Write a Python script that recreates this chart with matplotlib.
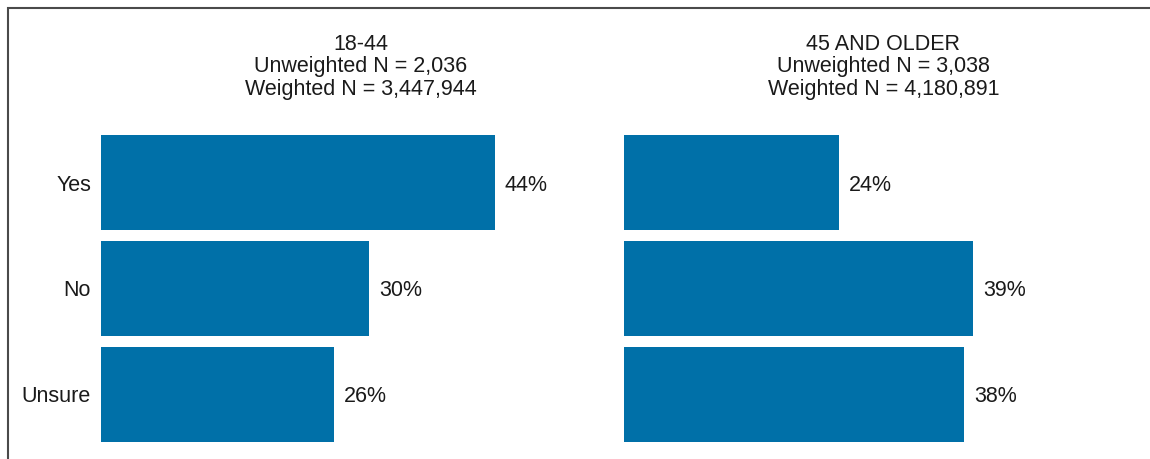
import matplotlib
matplotlib.use("Agg")
import matplotlib.pyplot as plt
from matplotlib.lines import Line2D

# Survey responses by age group (percent)
categories = ["Yes", "No", "Unsure"]
group_names = ["18-44", "45 AND OLDER"]
unweighted_n = ["2,036", "3,038"]
weighted_n = ["3,447,944", "4,180,891"]
values_18_44 = [44, 30, 26]
values_45_plus = [24, 39, 38]

BAR_COLOR = "#0070A8"
TEXT_COLOR = "#1a1a1a"
FONT = "Liberation Sans"
FS = 15.5

plt.rcParams["font.family"] = [FONT, "DejaVu Sans"]

W, H = 1150, 459
DPI = 100
fig = plt.figure(figsize=(W / DPI, H / DPI), dpi=DPI)
fig.patch.set_facecolor("white")

def px_to_pt(px):
    return px * 72.0 / DPI

# axes geometry in pixels (left, top, width, height)
ax_top = 130
ax_h = 317
ax_w = 519
lefts = [101, 624]
xmax = 58

series = [values_18_44, values_45_plus]
for k, (left, vals) in enumerate(zip(lefts, series)):
    ax = fig.add_axes([left / W, (H - ax_top - ax_h) / H, ax_w / W, ax_h / H])
    ypos = list(range(len(categories)))
    ax.barh(ypos, vals, height=0.9, color=BAR_COLOR, edgecolor="none")
    ax.set_xlim(0, xmax)
    ax.set_ylim(len(categories) - 0.5, -0.5)
    for s in ax.spines.values():
        s.set_visible(False)
    ax.set_xticks([])
    if k == 0:
        ax.set_yticks(ypos)
        ax.set_yticklabels(categories, fontsize=FS, color=TEXT_COLOR)
        ax.tick_params(axis="y", length=0, pad=px_to_pt(10))
    else:
        ax.set_yticks([])
    for i, v in enumerate(vals):
        ax.annotate(f"{v}%", xy=(v, i), xytext=(px_to_pt(10), 0),
                    textcoords="offset points", va="center_baseline",
                    ha="left", fontsize=FS, color=TEXT_COLOR)
    # three-line header above each panel
    lines = [group_names[k],
             f"Unweighted N = {unweighted_n[k]}",
             f"Weighted N = {weighted_n[k]}"]
    baselines = [50, 72, 95]
    for txt, b in zip(lines, baselines):
        ax.annotate(txt, xy=(0.5, 1.0), xycoords="axes fraction",
                    xytext=(0, px_to_pt(ax_top - b)), textcoords="offset points",
                    ha="center", va="baseline", fontsize=FS, color=TEXT_COLOR)

# frame around the figure (left and top edges)
bx = 7.5 / W
by = 1 - 8 / H
fig.add_artist(Line2D([bx, bx, 1.01], [-0.01, by, by], transform=fig.transFigure,
                      color="#4a4a4a", linewidth=1.5, solid_joinstyle="miter"))

fig.savefig("out.png", dpi=DPI, facecolor="white")
